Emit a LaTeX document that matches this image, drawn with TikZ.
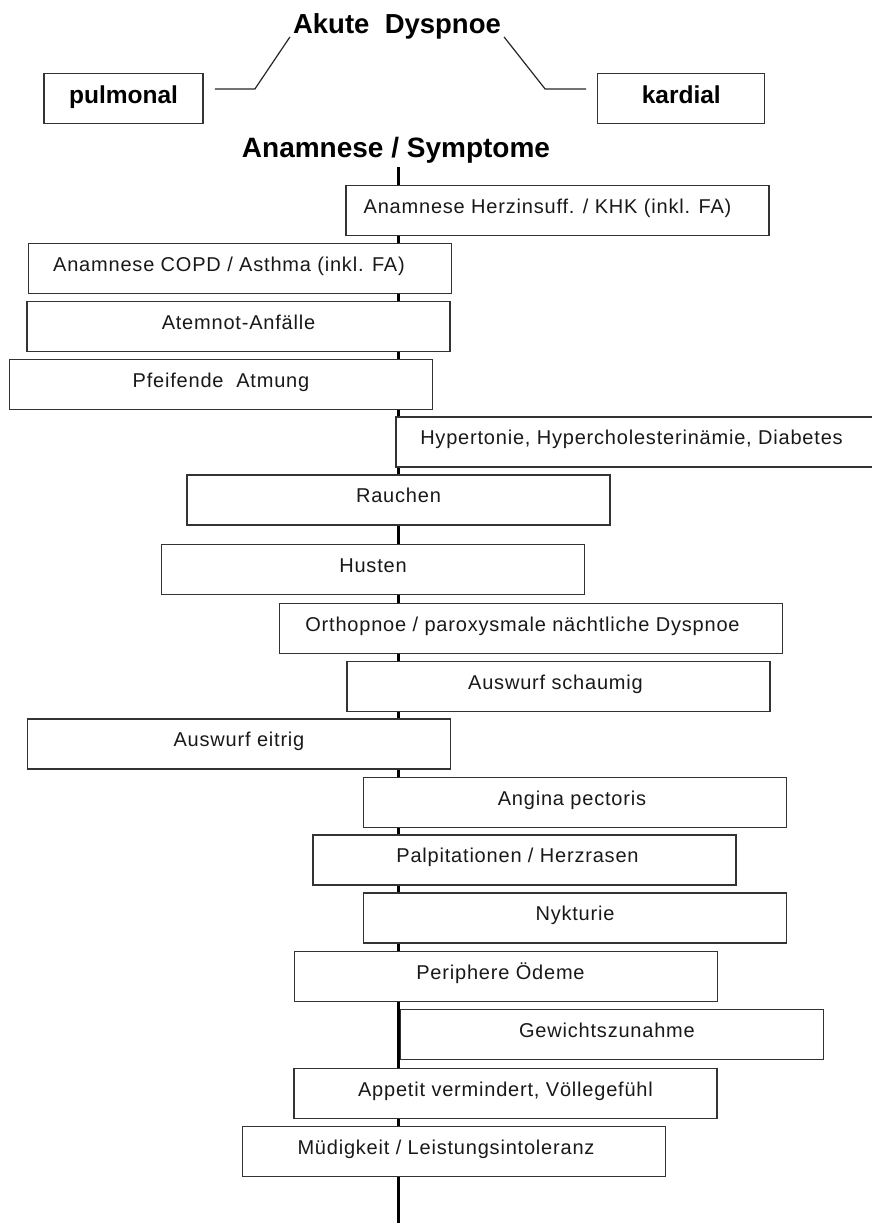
\documentclass[tikz,border=0pt]{standalone}
\usepackage{fontspec}
\setmainfont{Liberation Sans}
\newfontfamily\boxfont{Liberation Sans}[LetterSpace=4]

\begin{document}
\begin{tikzpicture}[x=1pt,y=-1pt,
    head/.style={font=\bfseries\fontsize{27.5}{30}\selectfont,inner sep=0pt},
    side/.style={draw=black!80,line width=1.3pt,minimum height=50pt,inner sep=0pt,
      text height=16pt,text depth=7pt,font=\bfseries\fontsize{24.5}{28}\selectfont},
    box/.style={draw=black!80,fill=white,line width=1.3pt,minimum width=423pt,
      minimum height=50pt,inner sep=0pt,text height=12pt,text depth=7pt,
      text=black!90,font=\boxfont\fontsize{20}{23}\selectfont},
    link/.style={line width=1.2pt,black!85},
    spine/.style={line width=3.5pt}]
    \useasboundingbox (0,0) rectangle (872,1223);
    \clip (0,0) rectangle (872,1223);
    % Kopf
    \node[head,anchor=base] (A) at (397,34) {Akute\ \ Dyspnoe};
    \node[side,minimum width=159pt] (P) at (123.6,98.5) {pulmonal};
    \node[side,minimum width=167pt] (K) at (681.3,98.5) {kardial};
    \draw[link] (A.base west) ++(-3,3) -- ++(-35,52) -- ++(-40,0);
    \draw[link] (A.base east) ++(3,3) -- ++(41,52) -- ++(41,0);
    \node[head,font=\bfseries\fontsize{28}{30}\selectfont,anchor=base] (S) at (396,157) {Anamnese / Symptome};
    \coordinate (E) at (398.5,1223);
    \draw[spine] (S.base -| E) ++(0,10) -- (E);
    % Kaesten
    \node[box] (herz) at (557.5,210.5) {Anamnese Herzinsuff. / KHK (inkl. FA)\hspace*{20pt}};
    \node[box] (copd) at (240,268.5) {Anamnese COPD / Asthma (inkl. FA)\hspace*{22pt}};
    \node[box] (atem) at (238.5,326.5) {Atemnot-Anfälle};
    \node[box] (pfeif) at (221,384.5) {Pfeifende\ \ Atmung};
    \node[box,minimum width=480pt] (hyper) at (636,442) {Hypertonie, Hypercholesterinämie, Diabetes\hspace*{9pt}};
    \node[box] (rauch) at (398.5,500) {Rauchen};
    \node[box] (hust) at (373,569.5) {Husten};
    \node[box,minimum width=503pt] (ortho) at (531,628.5) {Orthopnoe / paroxysmale nächtliche Dyspnoe\hspace*{17pt}};
    \node[box] (schaum) at (558.5,686.5) {Auswurf schaumig\hspace*{6pt}};
    \node[box] (eitr) at (239,744) {Auswurf eitrig};
    \node[box] (angi) at (575,802.5) {Angina pectoris\hspace*{6pt}};
    \node[box] (palp) at (524.5,860) {Palpitationen / Herzrasen\hspace*{14pt}};
    \node[box] (nykt) at (575,918) {Nykturie};
    \node[box] (oedem) at (506,976.5) {Periphere Ödeme\hspace*{11pt}};
    \node[box] (gew) at (612,1034.5) {Gewichtszunahme\hspace*{10pt}};
    \node[box] (appe) at (505.5,1093.5) {Appetit vermindert, Völlegefühl};
    \node[box] (mued) at (454,1151.5) {Müdigkeit / Leistungsintoleranz\hspace*{16pt}};
\end{tikzpicture}
\end{document}
